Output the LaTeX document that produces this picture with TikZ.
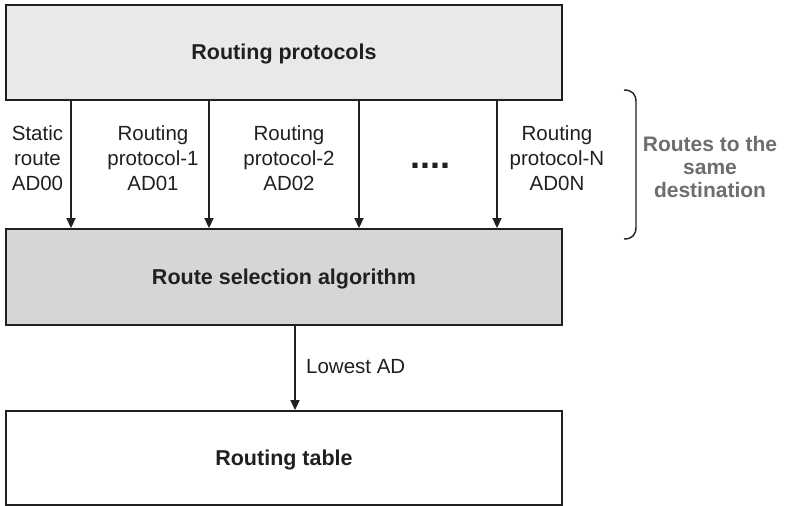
\documentclass[tikz,border=0pt]{standalone}
\usepackage{fontspec}
\setmainfont{Liberation Sans}
\usetikzlibrary{arrows.meta}
\definecolor{inkc}{HTML}{231F20}
\definecolor{topfill}{HTML}{E8E9EA}
\definecolor{midfill}{HTML}{D5D6D8}
\definecolor{notec}{HTML}{6D6E70}
\tikzset{
  box/.style={draw=inkc, line width=1.8pt, minimum width=556pt, inner sep=0pt,
    text height=14pt, text depth=0pt,
    font=\fontsize{21.5}{25}\bfseries\selectfont, text=inkc},
  flow/.style={draw=inkc, line width=1.4pt, -{Triangle[length=10pt,width=9pt]}},
  lbl/.style={align=center, inner sep=0pt, text=inkc,
    font=\fontsize{20.5}{25}\selectfont},
  note/.style={align=center, inner sep=0pt, text=notec,
    font=\fontsize{21}{23}\bfseries\selectfont},
}
\begin{document}
\begin{tikzpicture}[x=1pt, y=-1pt]
  \useasboundingbox (0,0) rectangle (785,506);

  % the three stages
  \node[box, fill=topfill, minimum height=95pt] (prot) at (284,52.5) {Routing protocols};
  \node[box, fill=midfill, minimum height=96pt] (sel) at (284,277) {Route selection algorithm};
  \node[box, fill=white, minimum height=94pt] (tab) at (284,458) {Routing table};

  % columns of the candidate routes
  \coordinate (c0) at (71,0);
  \coordinate (c1) at (209,0);
  \coordinate (c2) at (359,0);
  \coordinate (cn) at (497,0);
  \coordinate (co) at (295,0);

  \draw[flow] (prot.south -| c0) -- (sel.north -| c0);
  \draw[flow] (prot.south -| c1) -- (sel.north -| c1);
  \draw[flow] (prot.south -| c2) -- (sel.north -| c2);
  \draw[flow] (prot.south -| cn) -- (sel.north -| cn);
  \draw[flow] (sel.south -| co) -- (tab.north -| co);

  % route labels
  \node[lbl] (l0) at (37.5,158) {Static\\route\\AD00};
  \node[lbl] (l1) at (153,158) {Routing\\protocol-1\\AD01};
  \node[lbl] (l2) at (289,158) {Routing\\protocol-2\\AD02};
  \node[lbl] (ln) at (557,158) {Routing\\protocol-N\\AD0N};
  \node[inner sep=0pt, text=inkc, font=\fontsize{36}{36}\bfseries\selectfont] (dots) at (430,166) {....};
  \node[lbl, anchor=west] (low) at (306,367) {Lowest AD};

  % bracket grouping the routes
  \draw[inkc, line width=1.4pt]
    (624,90) .. controls (632,90) and (636,94) .. (636,102) -- (636,227)
    .. controls (636,235) and (632,239) .. (624,239);
  \node[note] (same) at (710,167) {Routes to the\\same\\destination};
\end{tikzpicture}
\end{document}
